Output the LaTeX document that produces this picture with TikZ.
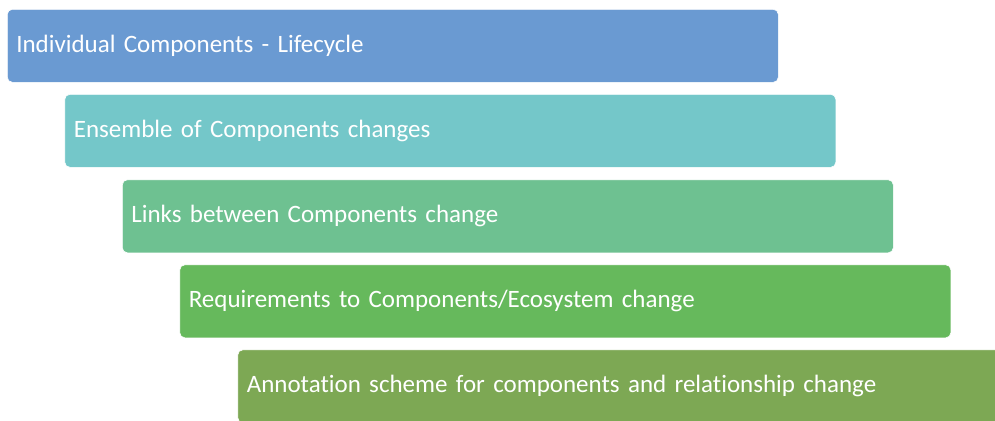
\documentclass[tikz,border=0pt]{standalone}
\usepackage{fontspec}
\setmainfont[Ligatures={NoCommon}]{Carlito}
\definecolor{lifeblue}{HTML}{6A9AD2}
\definecolor{ensteal}{HTML}{74C7C9}
\definecolor{linkgreen}{HTML}{6EC191}
\definecolor{reqgreen}{HTML}{66B95C}
\definecolor{annogreen}{HTML}{7DA854}
\begin{document}
\begin{tikzpicture}[x=1pt,y=1pt,
  bar/.style={rounded corners=5pt,draw=white,line width=0.6pt,anchor=north west,
    minimum width=771pt,minimum height=73pt,text width=753pt,inner xsep=9pt,
    align=left,text=white,font=\fontsize{25}{30}\selectfont}]
\useasboundingbox (0,0) rectangle (995,-420);
\clip (0,0) rectangle (995,-420);
\node[bar,fill=lifeblue] (life) at (7,-9) {Individual Components - Lifecycle};
\node[bar,fill=ensteal] (ensemble) at (64.5,-94) {Ensemble of Components changes};
\node[bar,fill=linkgreen] (links) at (122,-179.5) {Links between Components change};
\node[bar,fill=reqgreen] (reqs) at (179.5,-264.5) {Requirements to Components/Ecosystem change};
\node[bar,fill=annogreen] (anno) at (237.5,-349.5) {Annotation scheme for components and relationship change};
\end{tikzpicture}
\end{document}
